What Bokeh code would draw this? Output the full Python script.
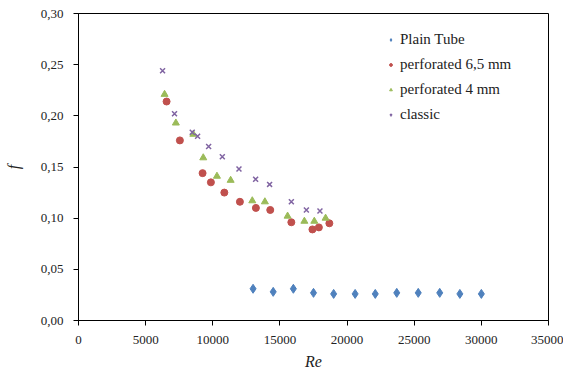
from bokeh.plotting import figure
from bokeh.models import FixedTicker, Legend, LegendItem
from bokeh.embed import file_html
from bokeh.resources import INLINE

# Data
plain_re = [13000, 14500, 16000, 17500, 19000, 20600, 22100, 23700, 25300, 26900, 28400, 30000]
plain_f = [0.031, 0.028, 0.031, 0.027, 0.026, 0.026, 0.026, 0.027, 0.027, 0.027, 0.026, 0.026]

perf65_re = [6560, 7550, 9240, 9860, 10860, 12020, 13210, 14280, 15850, 17420, 17900, 18680]
perf65_f = [0.214, 0.176, 0.144, 0.135, 0.125, 0.116, 0.110, 0.108, 0.096, 0.089, 0.091, 0.095]

perf4_re = [6410, 7250, 8550, 9290, 10310, 11330, 12940, 13880, 15570, 16820, 17560, 18400]
perf4_f = [0.221, 0.193, 0.182, 0.159, 0.141, 0.137, 0.117, 0.116, 0.102, 0.097, 0.097, 0.100]

classic_re = [6260, 7150, 8470, 8870, 9690, 10710, 11950, 13190, 14230, 15850, 16970, 17980]
classic_f = [0.244, 0.202, 0.184, 0.180, 0.170, 0.160, 0.148, 0.138, 0.133, 0.116, 0.108, 0.107]

series_names = ["Plain Tube", "perforated 6,5 mm", "perforated 4 mm", "classic"]

x_ticks = [0, 5000, 10000, 15000, 20000, 25000, 30000, 35000]
y_ticks = [0, 0.05, 0.1, 0.15, 0.2, 0.25, 0.3]
y_tick_labels = ["0,00", "0,05", "0,10", "0,15", "0,20", "0,25", "0,30"]

FONT = "Liberation Serif"

p = figure(output_backend="svg", toolbar_location=None,
           width=563, height=366,
           x_range=(0, 35000), y_range=(0, 0.30),
           min_border_left=78, min_border_right=15,
           min_border_top=13, min_border_bottom=46,
           frame_width=470, frame_height=307)

p.xgrid.visible = False
p.ygrid.visible = False
p.outline_line_color = "black"
p.outline_line_width = 1
p.background_fill_color = "white"
p.border_fill_color = "white"

for ax in (p.xaxis[0], p.yaxis[0]):
    ax.axis_line_color = "black"
    ax.major_tick_line_color = "black"
    ax.major_tick_in = 0
    ax.major_tick_out = 5
    ax.minor_tick_line_color = None
    ax.major_label_text_font = FONT
    ax.major_label_text_font_size = "13px"
    ax.major_label_text_color = "#222222"
    ax.axis_label_text_font = FONT
    ax.axis_label_text_font_style = "italic"
    ax.axis_label_text_font_size = "16px"
    ax.axis_label_text_color = "#222222"

p.xaxis[0].ticker = FixedTicker(ticks=x_ticks)
p.yaxis[0].ticker = FixedTicker(ticks=y_ticks)
p.yaxis[0].major_label_overrides = {t: l for t, l in zip(y_ticks, y_tick_labels)}
p.xaxis[0].axis_label = "Re"
p.yaxis[0].axis_label = "f"
p.xaxis[0].major_label_standoff = 10
p.yaxis[0].major_label_standoff = 10
p.xaxis[0].axis_label_standoff = 6
p.yaxis[0].axis_label_standoff = 16

r1 = p.scatter(plain_re, plain_f, marker="diamond", size=9, fill_color="#4F81BD", line_color="#4F81BD")
r2 = p.scatter(perf65_re, perf65_f, marker="circle", size=7, fill_color="#C0504D", line_color="#C0504D")
r3 = p.scatter(perf4_re, perf4_f, marker="triangle", size=7, fill_color="#9BBB59", line_color="#9BBB59")
r4 = p.scatter(classic_re, classic_f, marker="x", size=7, line_color="#8064A2", line_width=1.5)

legend = Legend(items=[LegendItem(label=n, renderers=[r]) for n, r in zip(series_names, [r1, r2, r3, r4])],
                border_line_color=None, background_fill_alpha=0,
                label_text_font=FONT, label_text_font_size="15px", label_text_color="#222222",
                glyph_width=7, glyph_height=7, spacing=8, label_standoff=6, padding=0, margin=0)
p.add_layout(legend, "center")
legend.location = (309, 197)

open("out.html", "w").write(file_html(p, INLINE))
